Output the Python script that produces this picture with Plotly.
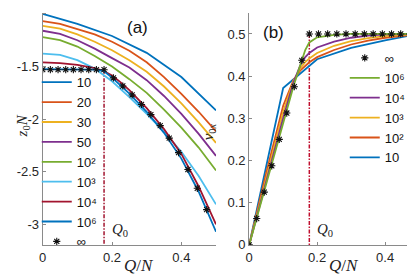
import plotly.graph_objects as go

# ---------------- data ----------------
Q0 = 0.177

# panel (a): z0*N vs Q/N
qa_10 = [0.0, 0.1, 0.2, 0.3, 0.4, 0.5]
za_10 = [-1.0, -1.095, -1.21, -1.37, -1.60, -1.917]

qa = [0.0, 0.05, 0.1, 0.15, 0.2, 0.25, 0.3, 0.35, 0.4, 0.45, 0.5]
za_20 = [-1.068, -1.095, -1.145, -1.195, -1.265, -1.35, -1.46, -1.60, -1.76, -1.93, -2.117]
za_30 = [-1.114, -1.14, -1.195, -1.265, -1.345, -1.44, -1.55, -1.69, -1.85, -2.03, -2.225]
za_50 = [-1.16, -1.19, -1.25, -1.33, -1.42, -1.51, -1.63, -1.78, -1.95, -2.14, -2.349]
za_1e2 = [-1.22, -1.25, -1.31, -1.40, -1.50, -1.62, -1.75, -1.91, -2.08, -2.27, -2.488]
za_1e3 = [-1.377, -1.39, -1.44, -1.52, -1.64, -1.79, -1.95, -2.12, -2.31, -2.54, -2.81]

qa_fine = [0.0, 0.05, 0.1, 0.15, 0.175, 0.2, 0.225, 0.25, 0.3, 0.35, 0.4, 0.45, 0.5]
za_1e4 = [-1.46, -1.468, -1.485, -1.515, -1.54, -1.585, -1.65, -1.725, -1.895, -2.095, -2.33, -2.64, -3.0]
za_1e6 = [-1.525, -1.525, -1.526, -1.53, -1.54, -1.605, -1.68, -1.757, -1.93, -2.13, -2.375, -2.69, -3.07]

qa_inf = [0.0, 0.0221, 0.0443, 0.0664, 0.0885, 0.1106, 0.1328, 0.1549, 0.177,
          0.204, 0.231, 0.258, 0.285, 0.312, 0.339, 0.365, 0.392, 0.419, 0.446, 0.473]
za_inf = [-1.53, -1.53, -1.53, -1.53, -1.53, -1.53, -1.53, -1.53, -1.53,
          -1.608, -1.685, -1.77, -1.861, -1.957, -2.062, -2.18, -2.318, -2.478, -2.657, -2.86]

# panel (b): v0x vs Q/N
qb_10 = [0.0, 0.1, 0.2, 0.3, 0.4, 0.5]
vb_10 = [0.0, 0.372, 0.44, 0.467, 0.485, 0.5]

qb = [0.0, 0.05, 0.1, 0.13, 0.15, 0.165, 0.177, 0.2, 0.25, 0.3, 0.35, 0.4, 0.45, 0.5]
vb_1e2 = [0.0, 0.17, 0.33, 0.39, 0.413, 0.425, 0.433, 0.445, 0.462, 0.475, 0.484, 0.491, 0.496, 0.5]
vb_1e3 = [0.0, 0.16, 0.315, 0.388, 0.418, 0.433, 0.442, 0.455, 0.472, 0.483, 0.49, 0.495, 0.498, 0.5]
vb_1e4 = [0.0, 0.152, 0.30, 0.384, 0.425, 0.445, 0.455, 0.468, 0.482, 0.491, 0.496, 0.499, 0.5, 0.5]
vb_1e6 = [0.0, 0.146, 0.292, 0.375, 0.425, 0.462, 0.48, 0.492, 0.498, 0.5, 0.5, 0.5, 0.5, 0.5]

qb_inf = [0.0, 0.0221, 0.0443, 0.0664, 0.0885, 0.1106, 0.1328, 0.1549, 0.177,
          0.204, 0.231, 0.258, 0.285, 0.312, 0.339, 0.365, 0.392, 0.419, 0.446, 0.473, 0.5]
vb_inf = [0.0, 0.0625, 0.125, 0.1875, 0.25, 0.3125, 0.375, 0.4375, 0.5,
          0.5, 0.5, 0.5, 0.5, 0.5, 0.5, 0.5, 0.5, 0.5, 0.5, 0.5, 0.5]

labels = ["10", "20", "30", "50", "10\u00b2", "10\u00b3",
          "10\u2074", "10\u2076", "\u221e"]

# ---------------- styles ----------------
BLUE, ORANGE, YELLOW, PURPLE = "#0072BD", "#D95319", "#EDB120", "#7E2F8E"
GREEN, CYAN, RED = "#77AC30", "#4DBEEE", "#A2142F"
LW = 1.8
W, H = 415, 275
FONT = "Liberation Sans, Arial, sans-serif"
SERIF = "Liberation Serif, Times New Roman, serif"

fig = go.Figure()

def line(x, y, name, color, xa, ya, leg):
    fig.add_trace(go.Scatter(x=x, y=y, mode="lines", name=name,
                             line=dict(color=color, width=LW),
                             xaxis=xa, yaxis=ya, legend=leg))

def inf_marks(x, y, xa, ya, leg):
    fig.add_trace(go.Scatter(x=x, y=y, mode="markers", name=labels[8],
                             marker=dict(symbol="asterisk-open", size=6, color="#111111",
                                         line=dict(color="#111111", width=1.1)),
                             xaxis=xa, yaxis=ya, legend=leg))

# Q0 dashed lines
fig.add_trace(go.Scatter(x=[Q0, Q0], y=[za_inf[0], -3.2], mode="lines", showlegend=False,
                         line=dict(color=RED, width=1.5, dash="4px,1.5px,1.5px,1.5px"),
                         xaxis="x", yaxis="y"))
fig.add_trace(go.Scatter(x=[Q0, Q0], y=[vb_inf[8], 0], mode="lines", showlegend=False,
                         line=dict(color="#C0102F", width=1.5, dash="4px,1.5px,1.5px,1.5px"),
                         xaxis="x2", yaxis="y2"))

# panel (a)
line(qa_10, za_10, labels[0], BLUE, "x", "y", "legend")
line(qa, za_20, labels[1], ORANGE, "x", "y", "legend")
line(qa, za_30, labels[2], YELLOW, "x", "y", "legend")
line(qa, za_50, labels[3], PURPLE, "x", "y", "legend")
line(qa, za_1e2, labels[4], GREEN, "x", "y", "legend")
line(qa, za_1e3, labels[5], CYAN, "x", "y", "legend")
line(qa_fine, za_1e4, labels[6], RED, "x", "y", "legend")
line(qa_fine, za_1e6, labels[7], BLUE, "x", "y", "legend")
inf_marks(qa_inf, za_inf, "x", "y", "legend")

# panel (b)  (legend shown in reverse order)
line(qb_10, vb_10, labels[0], BLUE, "x2", "y2", "legend2")
line(qb, vb_1e2, labels[4], ORANGE, "x2", "y2", "legend2")
line(qb, vb_1e3, labels[5], YELLOW, "x2", "y2", "legend2")
line(qb, vb_1e4, labels[6], PURPLE, "x2", "y2", "legend2")
line(qb, vb_1e6, labels[7], GREEN, "x2", "y2", "legend2")
inf_marks(qb_inf, vb_inf, "x2", "y2", "legend2")

yd = [1 - 244 / H, 1 - 5 / H]
axis_common = dict(showline=True, linecolor="#8a8a8a", linewidth=1, mirror=False,
                   ticks="inside", ticklen=3, tickcolor="#8a8a8a", showgrid=False,
                   zeroline=False, tickfont=dict(family=FONT, size=13, color="#262626"))

fig.update_layout(
    width=W, height=H, margin=dict(l=0, r=0, t=0, b=0),
    paper_bgcolor="white", plot_bgcolor="white",
    xaxis=dict(domain=[31 / W, 206 / W], range=[0, 0.5], tickvals=[0, 0.2, 0.4],
               ticktext=["0", "0.2", "0.4"], anchor="y", **axis_common),
    yaxis=dict(domain=yd, range=[-3.195, -0.99], tickvals=[-3, -2.5, -2, -1.5, -1],
               ticktext=["-3", "-2.5", "-2", "-1.5", "-1"], anchor="x", **axis_common),
    xaxis2=dict(domain=[239.5 / W, 411 / W], range=[0, 0.5], tickvals=[0, 0.2, 0.4],
                ticktext=["0", "0.2", "0.4"], anchor="y2", **axis_common),
    yaxis2=dict(domain=yd, range=[0, 0.55], tickvals=[0, 0.1, 0.2, 0.3, 0.4, 0.5],
                ticktext=["0", "0.1", "0.2", "0.3", "0.4", "0.5"], anchor="x2", **axis_common),
    legend=dict(x=25 / W, y=1 - 61 / H, xanchor="left", yanchor="top",
                bgcolor="rgba(0,0,0,0)", font=dict(family=FONT, size=13, color="#111"),
                tracegroupgap=0, itemwidth=30),
    legend2=dict(x=336 / W, y=1 - 36 / H, xanchor="left", yanchor="top",
                 bgcolor="rgba(0,0,0,0)", font=dict(family=FONT, size=13, color="#111"),
                 traceorder="reversed", tracegroupgap=0, itemwidth=30),
    showlegend=True,
)

ann = [
    dict(text="(a)", x=127 / W, y=1 - 20 / H, font=dict(family=FONT, size=17, color="#111")),
    dict(text="(b)", x=264 / W, y=1 - 25 / H, font=dict(family=FONT, size=17, color="#111")),
    dict(text="<i>Q</i>/<i>N</i>", x=128 / W, y=1 - 265 / H, font=dict(family=SERIF, size=17, color="#222")),
    dict(text="<i>Q</i>/<i>N</i>", x=335 / W, y=1 - 265 / H, font=dict(family=SERIF, size=17, color="#222")),
    dict(text="<i>Q</i><sub>0</sub>", x=109 / W, y=1 - 229 / H, font=dict(family=SERIF, size=15, color="#222")),
    dict(text="<i>Q</i><sub>0</sub>", x=316 / W, y=1 - 229 / H, font=dict(family=SERIF, size=15, color="#222")),
    dict(text="<i>z</i><sub>0</sub><i>N</i>", x=0, y=1 - 122 / H, textangle=-90, xanchor="left",
         font=dict(family=SERIF, size=15, color="#222")),
    dict(text="<i>v</i><sub>0<i>x</i></sub>", x=199 / W, y=1 - 128 / H, textangle=-90,
         font=dict(family=SERIF, size=15, color="#222")),
]
for a in ann:
    a.setdefault("xanchor", "center")
    a.update(xref="paper", yref="paper", showarrow=False, yanchor="middle")
fig.update_layout(annotations=ann)

fig.write_html("out.html")
